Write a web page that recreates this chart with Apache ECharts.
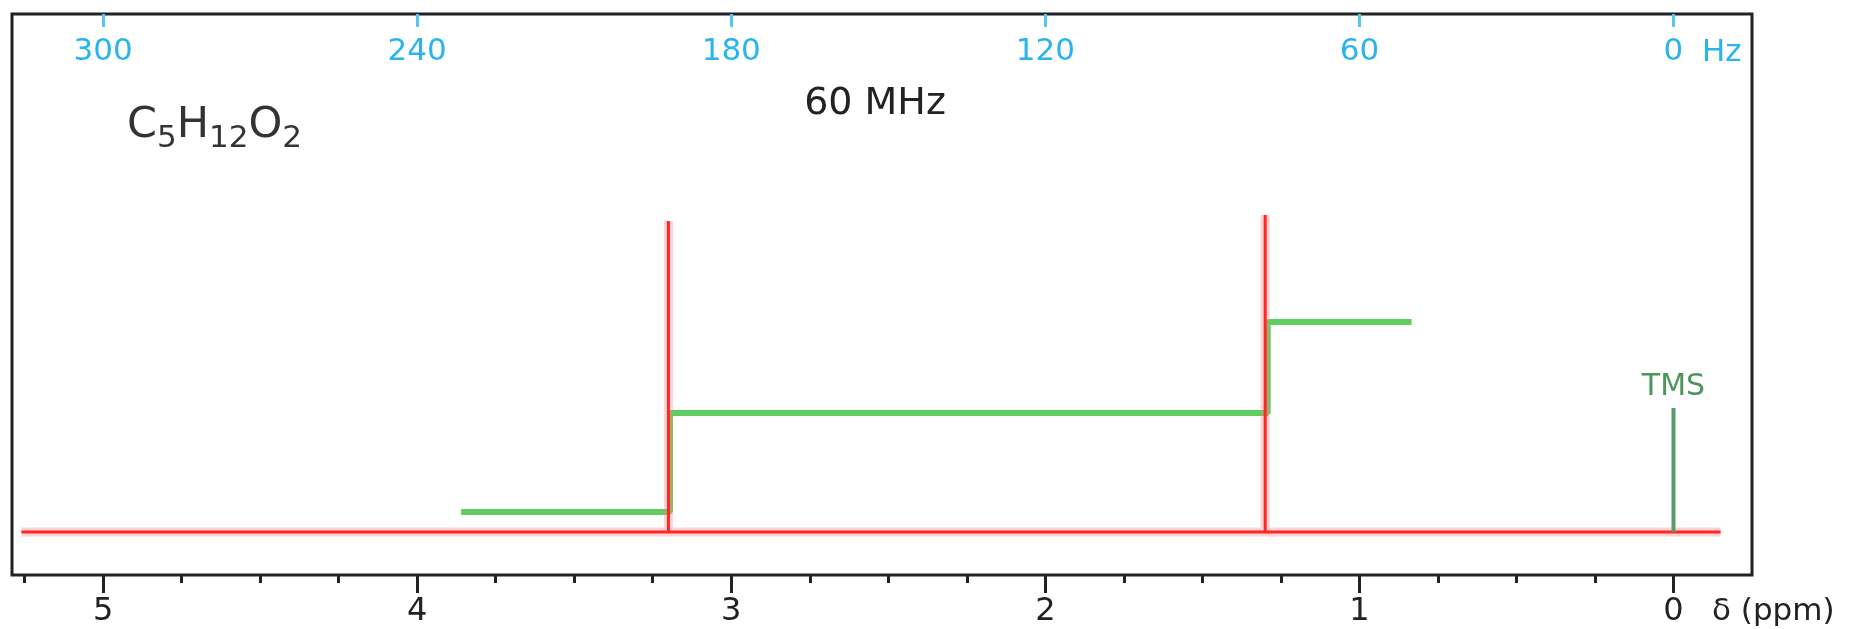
<!DOCTYPE html>
<html>
<head>
<meta charset="utf-8">
<title>C5H12O2 – 60 MHz proton NMR</title>
<script src="https://cdn.jsdelivr.net/npm/echarts@6/dist/echarts.min.js"></script>
<style>
  html, body { margin: 0; padding: 0; background: #fff; }
  #chart { width: 1860px; height: 629px; }
</style>
</head>
<body>
<div id="chart"></div>
<script>
// Chemical shifts (ppm) and heights of the two resonances
const peakShifts = [3.20, 1.30];
const peakHeights = [62.2, 63.4];
// Extent of the drawn baseline (ppm, left to right)
const baselineRange = [5.26, -0.15];

// Integral trace: start, step positions, end (ppm) and plateau levels
const integralStart = 3.86;
const integralSteps = [3.195, 1.292];
const integralEnd = 0.834;
const integralLevels = [4.0, 23.8, 42.0];

// Reference signal
const tmsShift = 0;
const tmsHeight = 24.8;

// Axis ticks
const ppmTicks = [5, 4, 3, 2, 1, 0];
const ppmMinorTicks = [5.25, 4.75, 4.5, 4.25, 3.75, 3.5, 3.25, 2.75, 2.5, 2.25,
                       1.75, 1.5, 1.25, 0.75, 0.5, 0.25];
const hzTicks = [300, 240, 180, 120, 60, 0];
const spectrometerMHz = 60;

const ppmMin = -0.25, ppmMax = 5.29;
const FONT = 'DejaVu Sans';

// Spectrum trace: flat baseline with a vertical line at each resonance
const spectrum = [[baselineRange[0], 0]];
peakShifts.forEach((s, i) => {
  spectrum.push([s, 0], [s, peakHeights[i]], [s, 0]);
});
spectrum.push([baselineRange[1], 0]);

// Integral staircase
const integral = [[integralStart, integralLevels[0]]];
integralSteps.forEach((s, i) => {
  integral.push([s, integralLevels[i]], [s, integralLevels[i + 1]]);
});
integral.push([integralEnd, integralLevels[integralLevels.length - 1]]);

const tmsLine = [[tmsShift, 0], [tmsShift, tmsHeight]];

const chart = echarts.init(document.getElementById('chart'), null, { renderer: 'canvas' });

const option = {
  animation: false,
  backgroundColor: '#fff',
  grid: {
    left: 12, top: 14, width: 1740, height: 561,
    show: true, borderColor: '#222', borderWidth: 3, backgroundColor: '#fff'
  },
  xAxis: [
    {
      type: 'value', position: 'bottom', min: ppmMin, max: ppmMax, inverse: true,
      axisLine: { show: false, onZero: false }, splitLine: { show: false },
      axisTick: { show: true, customValues: ppmTicks, length: 18,
                  lineStyle: { color: '#222', width: 3 } },
      axisLabel: { customValues: ppmTicks, fontSize: 32, color: '#222',
                   fontFamily: FONT, margin: 21 }
    },
    {
      type: 'value', position: 'bottom', min: ppmMin, max: ppmMax, inverse: true,
      axisLine: { show: false, onZero: false }, splitLine: { show: false },
      axisTick: { show: true, customValues: ppmMinorTicks, length: 8,
                  lineStyle: { color: '#222', width: 3 } },
      axisLabel: { show: false }
    },
    {
      type: 'value', position: 'top',
      min: ppmMin * spectrometerMHz, max: ppmMax * spectrometerMHz, inverse: true,
      axisLine: { show: false, onZero: false }, splitLine: { show: false },
      axisTick: { show: true, inside: true, customValues: hzTicks, length: 13,
                  lineStyle: { color: '#55c8f2', width: 3 } },
      axisLabel: { inside: true, customValues: hzTicks, fontSize: 31, color: '#2ab4ee',
                   fontFamily: FONT, margin: 22 }
    }
  ],
  yAxis: { type: 'value', min: -8.6, max: 103.6, show: false },
  series: [
    {
      name: 'integral', type: 'line', xAxisIndex: 0, data: integral,
      symbol: 'none', silent: true,
      lineStyle: { color: '#5fcc5f', width: 6 }
    },
    {
      name: 'spectrum-halo', type: 'line', xAxisIndex: 0, data: spectrum,
      symbol: 'none', silent: true,
      lineStyle: { color: 'rgba(255,130,130,0.35)', width: 9 }
    },
    {
      name: 'spectrum', type: 'line', xAxisIndex: 0, data: spectrum,
      symbol: 'none', silent: true,
      lineStyle: { color: '#ff2626', width: 3 }
    },
    {
      name: 'TMS', type: 'line', xAxisIndex: 0, data: tmsLine,
      symbol: 'none', silent: true,
      lineStyle: { color: '#5b9b6b', width: 4 }
    },
    {
      name: 'TMS-label', type: 'scatter', xAxisIndex: 0,
      data: [[tmsShift, tmsHeight]], symbolSize: 2, silent: true,
      itemStyle: { color: 'rgba(0,0,0,0)' },
      label: { show: true, formatter: 'TMS', position: 'top', distance: 5,
               color: '#1f7a33', fontSize: 30, fontFamily: FONT }
    }
  ],
  graphic: [
    {
      type: 'text', x: 875, y: 104,
      style: { text: '60 MHz', font: '38px "DejaVu Sans"', fill: '#222',
               align: 'center', verticalAlign: 'middle' }
    },
    {
      type: 'text', x: 127, y: 104,
      style: {
        text: '{b|C}{s|5}{b|H}{s|12}{b|O}{s|2}',
        fill: '#333',
        rich: {
          b: { fontSize: 43, fontFamily: FONT, lineHeight: 50, verticalAlign: 'top', fill: '#333' },
          s: { fontSize: 31, fontFamily: FONT, lineHeight: 26, verticalAlign: 'bottom', fill: '#333' }
        }
      }
    },
    {
      type: 'text', x: 1702, y: 53,
      style: { text: 'Hz', font: '31px "DejaVu Sans"', fill: '#2ab4ee',
               align: 'left', verticalAlign: 'middle' }
    },
    {
      type: 'text', x: 1712, y: 612,
      style: { text: 'δ (ppm)', font: '31px "DejaVu Sans"', fill: '#222',
               align: 'left', verticalAlign: 'middle' }
    }
  ]
};

chart.setOption(option);
</script>
</body>
</html>
